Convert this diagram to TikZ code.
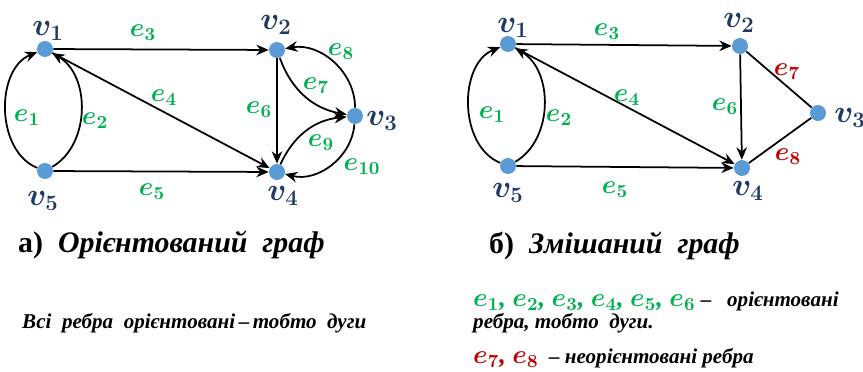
\RequirePackage{fix-cm}
\documentclass[tikz,border=0pt]{standalone}
\usepackage[no-math]{fontspec}
\setmainfont{Liberation Serif}
\usepackage{amsmath,bm}
\usetikzlibrary{arrows.meta}
\definecolor{vblue}{RGB}{31,56,100}
\definecolor{egreen}{RGB}{0,176,80}
\definecolor{ered}{RGB}{192,0,0}
\definecolor{dotblue}{RGB}{91,155,213}
\newcommand{\vlab}[1]{$\bm{v}_{\bm{#1}}$}
\newcommand{\elab}[1]{$\bm{e}_{\bm{#1}}$}
\begin{document}
\begin{tikzpicture}[x=0.02cm,y=-0.02cm,
  vert/.style={circle,fill=dotblue,inner sep=0pt,minimum size=0.32cm},
  arc/.style={-{Stealth[length=7pt,width=6pt]},line width=1pt},
  edg/.style={line width=1pt},
  vl/.style={text=vblue,font=\fontsize{18}{20}\selectfont},
  el/.style={text=egreen,font=\fontsize{15}{17}\selectfont},
  er/.style={text=ered,font=\fontsize{15}{17}\selectfont},
  title/.style={anchor=west,font=\fontsize{17}{20}\selectfont\bfseries},
  note/.style={anchor=west,font=\fontsize{12}{14}\selectfont\bfseries\itshape}]
\useasboundingbox (0,0) rectangle (863,372);
% left graph
\node[vert] (a1) at (45,49) {};
\node[vert] (a2) at (277,50) {};
\node[vert] (a3) at (355,116) {};
\node[vert] (a4) at (277,172) {};
\node[vert] (a5) at (45,171) {};
\draw[arc] (a5) to[bend left=68] (a1);
\draw[arc] (a5) to[bend right=60] (a1);
\draw[arc] (a1) -- (a2);
\draw[arc] (a1) -- (a4);
\draw[arc] (a5) -- (a4);
\draw[arc] (a2) -- (a4);
\draw[arc] (a2) to[bend right=30] (a3);
\draw[arc] (a3) to[bend right=50] (a2);
\draw[arc] (a4) to[bend left=30] (a3);
\draw[arc] (a3) to[bend left=50] (a4);
\node[vl] (a1l) at (48,31) {\vlab{1}};
\node[vl] (a2l) at (276,25) {\vlab{2}};
\node[vl] (a3l) at (382,121) {\vlab{3}};
\node[vl] (a4l) at (283,196) {\vlab{4}};
\node[vl] (a5l) at (43,201) {\vlab{5}};
\node[el] (ae1) at (27,118) {\elab{1}};
\node[el] (ae2) at (95,121) {\elab{2}};
\node[el] (ae3) at (143,33) {\elab{3}};
\node[el] (ae4) at (164,98) {\elab{4}};
\node[el] (ae5) at (152,192) {\elab{5}};
\node[el] (ae6) at (259,110) {\elab{6}};
\node[el] (ae7) at (316,86) {\elab{7}};
\node[el] (ae8) at (341,52) {\elab{8}};
\node[el] (ae9) at (321,143) {\elab{9}};
\node[el] (ae10) at (362,167) {\elab{10}};
% right graph
\node[vert] (b1) at (508,44) {};
\node[vert] (b2) at (740,46) {};
\node[vert] (b3) at (818,113) {};
\node[vert] (b4) at (742,168) {};
\node[vert] (b5) at (508,166) {};
\draw[arc] (b5) to[bend left=68] (b1);
\draw[arc] (b5) to[bend right=60] (b1);
\draw[arc] (b1) -- (b2);
\draw[arc] (b1) -- (b4);
\draw[arc] (b5) -- (b4);
\draw[arc] (b2) -- (b4);
\draw[edg] (b2) -- (b3);
\draw[edg] (b3) -- (b4);
\node[vl] (b1l) at (513,28) {\vlab{1}};
\node[vl] (b2l) at (739,23) {\vlab{2}};
\node[vl] (b3l) at (850,118) {\vlab{3}};
\node[vl] (b4l) at (748,191) {\vlab{4}};
\node[vl] (b5l) at (508,193) {\vlab{5}};
\node[el] (be1) at (492,115) {\elab{1}};
\node[el] (be2) at (559,118) {\elab{2}};
\node[el] (be3) at (607,32) {\elab{3}};
\node[el] (be4) at (627,98) {\elab{4}};
\node[el] (be5) at (615,190) {\elab{5}};
\node[el] (be6) at (725,107) {\elab{6}};
\node[er] (be7) at (787,72) {\elab{7}};
\node[er] (be8) at (788,157) {\elab{8}};
% captions
\node[title] (capa) at (12,245) {а)\ \ \textit{Орієнтований\ \ граф}};
\node[note] (nota) at (16,323) {Всі\ \ ребра\ \ орієнтовані\,–\,тобто\ \ дуги};
\node[title] (capb) at (483,246) {б)\ \ \textit{Змішаний\ \ граф}};
\node[note] (notb1) at (467,301)
  {{\color{egreen}\fontsize{15}{17}\selectfont\elab{1}, \elab{2}, \elab{3}, \elab{4}, \elab{5}, \elab{6}}\ –\ \ \ орієнтовані};
\node[note] (notb2) at (467,323) {ребра, тобто\ \ дуги.};
\node[note] (notb3) at (467,358)
  {{\color{ered}\fontsize{15}{17}\selectfont\elab{7}, \elab{8}}\ \ – неорієнтовані\ ребра};
\end{tikzpicture}
\end{document}
